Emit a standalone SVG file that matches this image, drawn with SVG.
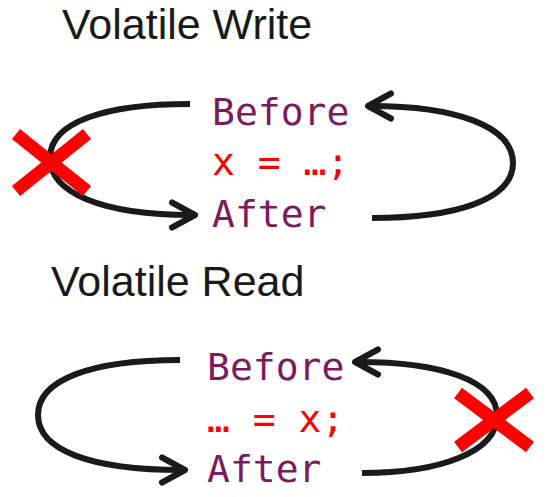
<svg xmlns="http://www.w3.org/2000/svg" width="547" height="497" viewBox="0 0 547 497">
<style>
.title{font-family:"Liberation Sans",Arial,sans-serif;font-size:43px;fill:#1a1a1a}
.code{font-family:"DejaVu Sans Mono","Liberation Mono",monospace;font-size:38px}
.kw{fill:#7d1a5f}
.op{fill:#ff0000}
.loop{fill:none;stroke:#1a1a1a;stroke-width:6;stroke-linecap:butt}
.cross{stroke:#ff0000;stroke-width:13;stroke-linecap:butt}
</style>
<defs>
<marker id="chev" markerUnits="userSpaceOnUse" markerWidth="40" markerHeight="40" viewBox="-30 -20 40 40" refX="-3" refY="0" orient="auto">
<polyline points="-23,-12.5 0,0 -23,12.5" fill="none" stroke="#1a1a1a" stroke-width="6" stroke-linecap="round" stroke-linejoin="round"/>
</marker>
</defs>
<g id="write">
<text class="title" x="62" y="39">Volatile Write</text>
<g id="w-before"><text class="code kw" x="212" y="125">Before</text></g>
<g id="w-stmt"><text class="code op" x="212" y="175">x = …;</text></g>
<g id="w-after"><text class="code kw" x="212" y="227">After</text></g>
</g>
<g id="read">
<text class="title" x="51" y="296">Volatile Read</text>
<g id="r-before"><text class="code kw" x="207" y="380">Before</text></g>
<g id="r-stmt"><text class="code op" x="207" y="432">… = x;</text></g>
<g id="r-after"><text class="code kw" x="207" y="482">After</text></g>
</g>
<g id="connectors">
<path class="loop" d="M190,104 C105,104 50,122 50,158 C50,192 100,215 192,215" marker-end="url(#chev)"/>
<path class="loop" d="M372,218 C455,218 513,200 513,163 C513,126 455,106 371,106" marker-end="url(#chev)"/>
<path class="loop" d="M180,360 C90,360 38,380 38,415 C38,450 90,470 182,470" marker-end="url(#chev)"/>
<path class="loop" d="M362,473 C440,473 497,452 497,416 C497,380 440,362 358,362" marker-end="url(#chev)"/>
</g>
<g id="cross-write">
<line class="cross" x1="16" y1="134" x2="87" y2="191"/>
<line class="cross" x1="87" y1="134" x2="16" y2="191"/>
</g>
<g id="cross-read">
<line class="cross" x1="458" y1="393" x2="530" y2="447"/>
<line class="cross" x1="530" y1="393" x2="458" y2="447"/>
</g>
</svg>
